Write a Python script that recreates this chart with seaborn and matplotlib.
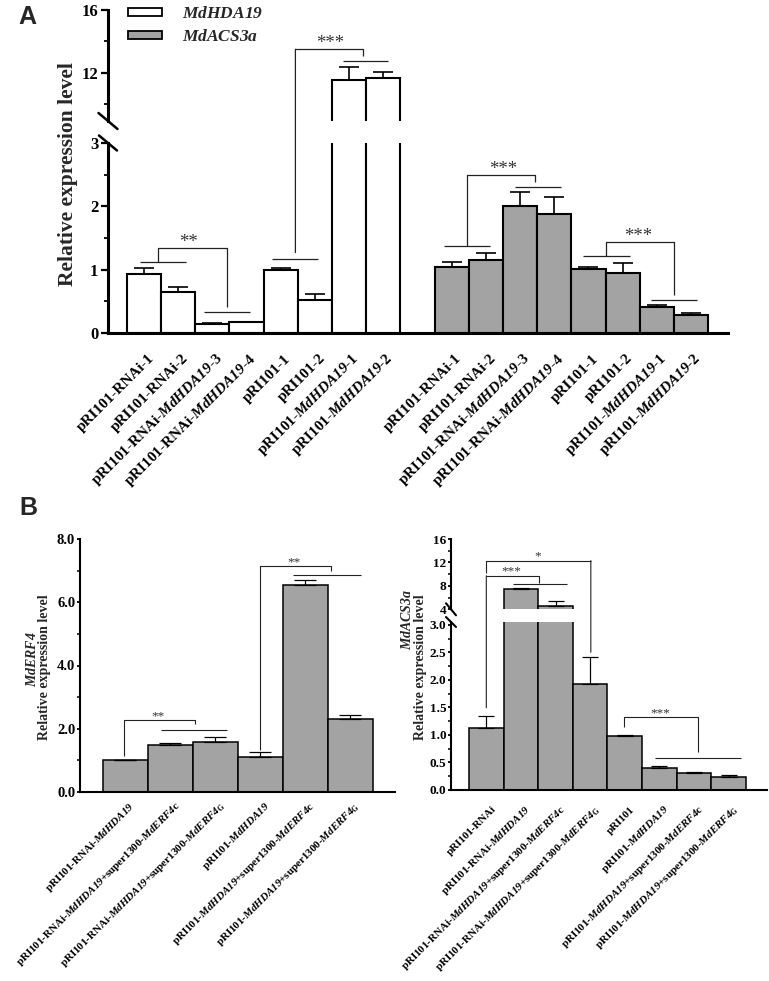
import numpy as np
import pandas as pd
import matplotlib
matplotlib.use('Agg')
from matplotlib import pyplot as plt
from matplotlib.patches import ConnectionPatch, Patch
from matplotlib.ticker import FormatStrFormatter
from matplotlib.transforms import ScaledTranslation
import seaborn as sns

sns.set_style('ticks')
plt.rcParams['font.family'] = ['Liberation Serif', 'DejaVu Serif']
plt.rcParams['font.weight'] = 'bold'
# gene names: bold italic, digits included (mathtext draws digits with the rm font)
plt.rcParams['mathtext.fontset'] = 'custom'
plt.rcParams['mathtext.rm'] = 'Liberation Serif:italic:bold'
plt.rcParams['mathtext.it'] = 'Liberation Serif:italic:bold'
plt.rcParams['mathtext.bf'] = 'Liberation Serif:bold'
plt.rcParams['axes.edgecolor'] = 'black'
plt.rcParams['xtick.color'] = 'black'
plt.rcParams['ytick.color'] = 'black'

GRAY = '#a3a3a3'
HDA = r'$\mathit{MdHDA19}$'
ACS = r'$\mathit{MdACS3a}$'
ERF = r'$\mathit{MdERF4}$'
ERF_G = r'$\mathit{MdERF4}_{\mathbf{G}}$'

# ---- data, panel A
a_labels = ['pRI101-RNAi-1', 'pRI101-RNAi-2', 'pRI101-RNAi-' + HDA + '-3', 'pRI101-RNAi-' + HDA + '-4',
            'pRI101-1', 'pRI101-2', 'pRI101-' + HDA + '-1', 'pRI101-' + HDA + '-2']
a_hda_mean = [0.93, 0.64, 0.15, 0.17, 1.00, 0.52, 11.55, 11.65]
a_hda_err = [0.09, 0.09, 0.01, 0.01, 0.03, 0.10, 0.80, 0.42]
a_acs_mean = [1.04, 1.16, 2.01, 1.88, 1.01, 0.95, 0.41, 0.29]
a_acs_err = [0.08, 0.10, 0.22, 0.27, 0.03, 0.15, 0.04, 0.02]

# ---- data, panel B (left: MdERF4, right: MdACS3a)
bl_labels = ['pRI101-RNAi-' + HDA,
             'pRI101-RNAi-' + HDA + '+super1300-' + ERF + 'c',
             'pRI101-RNAi-' + HDA + '+super1300-' + ERF_G,
             'pRI101-' + HDA,
             'pRI101-' + HDA + '+super1300-' + ERF + 'c',
             'pRI101-' + HDA + '+super1300-' + ERF_G]
bl_mean = [1.00, 1.50, 1.58, 1.12, 6.55, 2.32]
bl_err = [0.02, 0.05, 0.17, 0.15, 0.15, 0.10]

br_labels = ['pRI101-RNAi'] + bl_labels[:3] + ['pRI101'] + bl_labels[3:]
br_mean = [1.13, 7.45, 4.55, 1.92, 0.98, 0.40, 0.30, 0.24]
br_err = [0.22, 0.20, 0.90, 0.50, 0.02, 0.03, 0.02, 0.02]

df_a = pd.DataFrame({
    'pos': list(range(8)) + list(range(9, 17)),
    'value': a_hda_mean + a_acs_mean,
    'err': a_hda_err + a_acs_err,
    'gene': ['MdHDA19'] * 8 + ['MdACS3a'] * 8,
})
df_bl = pd.DataFrame({'pos': range(len(bl_mean)), 'value': bl_mean, 'err': bl_err})
df_br = pd.DataFrame({'pos': range(len(br_mean)), 'value': br_mean, 'err': br_err})

W, H = 769, 981
fig = plt.figure(figsize=(W / 100, H / 100), dpi=100)


def px_box(x0, y0, x1, y1):
    return [x0 / W, 1 - y1 / H, (x1 - x0) / W, (y1 - y0) / H]


def draw_bars(ax, df, lw, cap, hue=None, palette=None, color=None):
    sns.barplot(data=df, x='pos', y='value', hue=hue, palette=palette, color=color,
                native_scale=True, width=1, dodge=False, orient='x', saturation=1,
                edgecolor='black', linewidth=lw, errorbar=None, legend=False, ax=ax)
    ax.errorbar(df['pos'], df['value'], yerr=[np.zeros(len(df)), df['err']], fmt='none',
                ecolor='black', elinewidth=lw * 0.8, capsize=cap, capthick=lw * 0.8)


def style_axis(ax, lw, spines):
    for side in ['top', 'right', 'bottom', 'left']:
        ax.spines[side].set_visible(side in spines)
        ax.spines[side].set_linewidth(lw)
    ax.set_xlabel('')
    ax.set_ylabel('')


def line(ax, xs, ys, lw=0.9):
    ax.plot(xs, ys, color='#222222', lw=lw, solid_capstyle='butt', clip_on=False)


def stars(ax, x, y, s, size):
    ax.text(x, y, s, ha='center', va='baseline', fontsize=size, fontweight='normal',
            color='#333333')


def cross_line(ax_a, xy_a, ax_b, xy_b, lw=0.9):
    con = ConnectionPatch(xyA=xy_a, coordsA='data', axesA=ax_a,
                          xyB=xy_b, coordsB='data', axesB=ax_b,
                          color='#222222', lw=lw)
    fig.add_artist(con)


def slash(ax, y0, dx, dy, lw):
    wpx, hpx = ax.bbox.width, ax.bbox.height
    ax.plot([-dx / wpx, dx / wpx], [y0 + dy / hpx, y0 - dy / hpx], transform=ax.transAxes,
            color='black', lw=lw, clip_on=False)


def rotate_labels(ax, labels, size, pad, dx_px):
    ax.set_xticks(ax.get_xticks())
    ax.set_xticklabels(labels, rotation=45, ha='right', va='center', rotation_mode='anchor',
                       fontsize=size)
    ax.tick_params(axis='x', length=0, pad=pad)
    off = ScaledTranslation(dx_px / 100, 0, fig.dpi_scale_trans)
    for lab in ax.get_xticklabels():
        lab.set_transform(lab.get_transform() + off)


# =================== Panel A ===================
a_hi = fig.add_axes(px_box(108, 10, 728, 121))
a_lo = fig.add_axes(px_box(108, 143, 728, 333))
pal = {'MdHDA19': 'white', 'MdACS3a': GRAY}
for ax in (a_hi, a_lo):
    draw_bars(ax, df_a, 1.5, 7.2, hue='gene', palette=pal)
    ax.set_xlim(-1.05, 17.08)
    ax.tick_params(axis='y', which='major', length=5, width=1.6, labelsize=12, pad=2, direction='out')
    ax.tick_params(axis='y', which='minor', length=3, width=1.3, direction='out')

a_hi.set_ylim(8.95, 16)
a_hi.set_yticks([12, 16])
a_hi.set_yticks([10, 14], minor=True)
a_hi.tick_params(axis='x', bottom=False, labelbottom=False)
style_axis(a_hi, 2.2, ['left'])

a_lo.set_ylim(0, 3)
a_lo.set_yticks([0, 1, 2, 3])
a_lo.set_yticks([0.5, 1.5, 2.5], minor=True)
style_axis(a_lo, 2.2, ['left', 'bottom'])
a_lo.set_xticks(df_a['pos'])
rotate_labels(a_lo, a_labels * 2, 11, 17, 8)

slash(a_hi, 0, 9.5, 8, 1.8)
slash(a_lo, 1, 9, 7.5, 1.8)

# significance, white group
line(a_lo, [-0.12, 1.22], [1.12, 1.12])
line(a_lo, [1.77, 3.09], [0.33, 0.33])
line(a_lo, [0.40, 0.40, 2.42, 2.42], [1.12, 1.34, 1.34, 0.41])
stars(a_lo, 1.31, 1.36, '**', 13.5)
line(a_lo, [3.76, 5.10], [1.17, 1.17])
line(a_hi, [5.83, 7.14], [12.76, 12.76])
line(a_hi, [4.43, 6.41, 6.41], [13.5, 13.5, 13.08])
cross_line(a_lo, (4.43, 1.27), a_hi, (4.43, 13.5))
stars(a_hi, 5.45, 13.6, '***', 13.5)
# significance, gray group
line(a_lo, [8.77, 10.11], [1.37, 1.37])
line(a_lo, [9.44, 9.44, 11.45, 11.45], [1.37, 2.49, 2.49, 2.39])
line(a_lo, [10.84, 12.21], [2.31, 2.31])
stars(a_lo, 10.5, 2.51, '***', 13.5)
line(a_lo, [12.85, 14.22], [1.21, 1.21])
line(a_lo, [13.52, 13.52, 15.5, 15.5], [1.21, 1.44, 1.44, 0.6])
line(a_lo, [14.84, 16.18], [0.52, 0.52])
stars(a_lo, 14.45, 1.46, '***', 13.5)

handles = [Patch(facecolor='white', edgecolor='black', lw=1.3, label=HDA),
           Patch(facecolor=GRAY, edgecolor='black', lw=1.3, label=ACS)]
a_hi.legend(handles=handles, loc='upper left', bbox_to_anchor=(0.032, 1.035), frameon=False,
            borderpad=0, borderaxespad=0, handlelength=1.95, handleheight=0.35,
            handletextpad=1.15, labelspacing=0.42, fontsize=12.5)

fig.text(68 / W, 1 - 174 / H, 'Relative expression level', rotation=90, ha='center',
         va='center', fontsize=15.5, fontweight='bold')
fig.text(27 / W, 1 - 17 / H, 'A', family='Liberation Sans', fontweight='bold', fontsize=18,
         ha='center', va='center')

# =================== Panel B, left ===================
bl = fig.add_axes(px_box(80, 539, 395, 792))
draw_bars(bl, df_bl, 1.1, 8, color=GRAY)
bl.set_xlim(-1.01, 6.0)
bl.set_ylim(0, 8)
bl.set_yticks([0, 2, 4, 6, 8])
bl.set_yticks([1, 3, 5, 7], minor=True)
bl.yaxis.set_major_formatter(FormatStrFormatter('%.1f'))
bl.tick_params(axis='y', which='major', length=2.5, width=1.3, labelsize=10.5, pad=1)
bl.tick_params(axis='y', which='minor', length=2, width=1.1)
style_axis(bl, 1.5, ['left', 'bottom'])
bl.set_xticks(df_bl['pos'])
rotate_labels(bl, bl_labels, 7.9, 9, 8)

line(bl, [0.79, 2.27], [1.96, 1.96], 0.8)
line(bl, [-0.03, -0.03, 1.55, 1.55], [1.15, 2.28, 2.28, 2.15], 0.8)
stars(bl, 0.73, 2.3, '**', 9.5)
line(bl, [3.74, 5.24], [6.86, 6.86], 0.8)
line(bl, [3.0, 3.0, 4.57, 4.57], [1.33, 7.15, 7.15, 7.0], 0.8)
stars(bl, 3.76, 7.17, '**', 9.5)

fig.text(32 / W, 1 - 659 / H, ERF, rotation=90, ha='center', va='center', fontsize=10)
fig.text(45 / W, 1 - 667 / H, 'Relative expression level', rotation=90, ha='center',
         va='center', fontsize=10, fontweight='bold')
fig.text(28 / W, 1 - 508 / H, 'B', family='Liberation Sans', fontweight='bold', fontsize=18,
         ha='center', va='center')

# =================== Panel B, right ===================
br_hi = fig.add_axes(px_box(451, 539, 767, 609.3))
br_lo = fig.add_axes(px_box(451, 622, 767, 789.8))
for ax in (br_hi, br_lo):
    draw_bars(ax, df_br, 1.1, 6, color=GRAY)
    ax.set_xlim(-1.02, 8.11)
    ax.tick_params(axis='y', which='major', length=2.5, width=1.3, labelsize=9.5, pad=1)
    ax.tick_params(axis='y', which='minor', length=2, width=1.1)

br_hi.set_ylim(4, 16)
br_hi.set_yticks([4, 8, 12, 16])
br_hi.set_yticks([6, 10, 14], minor=True)
br_hi.tick_params(axis='x', bottom=False, labelbottom=False)
style_axis(br_hi, 1.5, ['left'])

br_lo.set_ylim(0, 3.05)
br_lo.set_yticks(np.arange(0, 3.01, 0.5))
br_lo.set_yticks(np.arange(0.25, 3.0, 0.5), minor=True)
br_lo.yaxis.set_major_formatter(FormatStrFormatter('%.1f'))
style_axis(br_lo, 1.5, ['left', 'bottom'])
br_lo.set_xticks(df_br['pos'])
rotate_labels(br_lo, br_labels, 7.9, 13, 8)

slash(br_hi, 0, 5, 6, 1.5)
slash(br_lo, 1, 5, 5, 1.5)

line(br_hi, [0, 0, 3.02], [10.26, 12.31, 12.31], 0.8)
cross_line(br_hi, (3.02, 12.31), br_lo, (3.02, 2.5), 0.8)
stars(br_hi, 1.47, 12.45, '*', 9.5)
line(br_hi, [0, 1.53, 1.53], [9.74, 9.74, 8.5], 0.8)
cross_line(br_hi, (0, 9.74), br_lo, (0, 1.49), 0.8)
line(br_hi, [0.78, 2.32], [8.33, 8.33], 0.8)
stars(br_hi, 0.73, 9.9, '***', 9.5)
line(br_lo, [4.88, 7.36], [0.57, 0.57], 0.8)
line(br_lo, [3.99, 3.99, 6.11, 6.11], [1.14, 1.32, 1.32, 0.68], 0.8)
stars(br_lo, 5.02, 1.34, '***', 9.5)

fig.text(407 / W, 1 - 619 / H, ACS, rotation=90, ha='center', va='center', fontsize=10)
fig.text(420 / W, 1 - 667 / H, 'Relative expression level', rotation=90, ha='center',
         va='center', fontsize=10, fontweight='bold')

fig.savefig('out.png', dpi=100)
